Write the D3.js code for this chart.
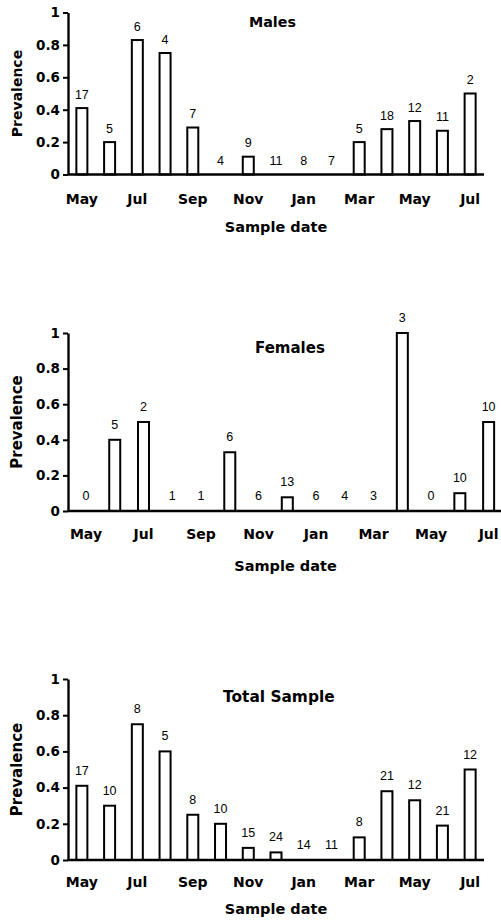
<!DOCTYPE html>
<html>
<head>
<meta charset="utf-8">
<script src="https://cdn.jsdelivr.net/npm/d3@7/dist/d3.min.js"></script>
<style>
  html, body { margin: 0; padding: 0; background: #fff; }
  svg { display: block; }
  .bold { font-family: "DejaVu Sans", sans-serif; font-weight: bold; fill: #000; }
  .count { font-family: "Liberation Sans", Arial, sans-serif; font-size: 12.5px; fill: #000; }
</style>
</head>
<body>
<svg id="chart" width="501" height="922"></svg>
<script>
// sample months (May of year 1 to July of year 2)
const months = ["May", "Jun", "Jul", "Aug", "Sep", "Oct", "Nov", "Dec",
                "Jan", "Feb", "Mar", "Apr", "May", "Jun", "Jul"];
const yTicks = [0, 0.2, 0.4, 0.6, 0.8, 1];

// prevalence per sample and sample sizes (numbers above bars)
const malesPrev = [0.41, 0.2, 0.83, 0.75, 0.29, 0, 0.11, 0, 0, 0, 0.2, 0.28, 0.33, 0.27, 0.5];
const malesN = [17, 5, 6, 4, 7, 4, 9, 11, 8, 7, 5, 18, 12, 11, 2];

const femalesPrev = [0, 0.4, 0.5, 0, 0, 0.33, 0, 0.077, 0, 0, 0, 1, 0, 0.1, 0.5];
const femalesN = [0, 5, 2, 1, 1, 6, 6, 13, 6, 4, 3, 3, 0, 10, 10];

const totalPrev = [0.41, 0.3, 0.75, 0.6, 0.25, 0.2, 0.067, 0.042, 0, 0, 0.125, 0.38, 0.33, 0.19, 0.5];
const totalN = [17, 10, 8, 5, 8, 10, 15, 24, 14, 11, 8, 21, 12, 21, 12];

const panels = [
  { title: "Males", prev: malesPrev, n: malesN,
    axisX: 68, bandX: [68, 484], axisEnd: 484, y0: 174.5, y1: 12.5,
    titleX: 249, titleY: 27, titleSize: 14.3, monthY: 204, xLabelY: 232,
    yLabelSize: 14, gap: 9.5 },
  { title: "Females", prev: femalesPrev, n: femalesN,
    axisX: 68, bandX: [71.6, 503], axisEnd: 503, y0: 511, y1: 333,
    titleX: 255, titleY: 353, titleSize: 15, monthY: 539, xLabelY: 571,
    yLabelSize: 15, gap: 11 },
  { title: "Total Sample", prev: totalPrev, n: totalN,
    axisX: 68, bandX: [68, 484], axisEnd: 484, y0: 860, y1: 679,
    titleX: 223, titleY: 702, titleSize: 15.4, monthY: 887, xLabelY: 914,
    yLabelSize: 15, gap: 11 }
];

const svg = d3.select("#chart");

panels.forEach((p) => {
  const g = svg.append("g");

  const x = d3.scaleBand()
    .domain(d3.range(months.length))
    .range(p.bandX)
    .padding(0);

  const y = d3.scaleLinear()
    .domain([0, 1])
    .range([p.y0, p.y1]);

  const barW = 11;

  // bars
  g.selectAll(".bar")
    .data(p.prev.map((v, i) => ({ i, v })).filter(d => d.v > 0))
    .enter()
    .append("rect")
    .attr("x", d => x(d.i) + x.bandwidth() / 2 - barW / 2)
    .attr("y", d => y(d.v))
    .attr("width", barW)
    .attr("height", d => y(0) - y(d.v))
    .attr("fill", "#fff")
    .attr("stroke", "#000")
    .attr("stroke-width", 2);

  // sample sizes above bars
  g.selectAll(".count")
    .data(p.n.map((v, i) => ({ i, v, prev: p.prev[i] })))
    .enter()
    .append("text")
    .attr("class", "count")
    .attr("x", d => x(d.i) + x.bandwidth() / 2)
    .attr("y", d => y(d.prev) - p.gap)
    .attr("text-anchor", "middle")
    .text(d => d.v);

  // x axis line
  g.append("line")
    .attr("x1", p.axisX)
    .attr("x2", p.axisEnd)
    .attr("y1", y(0))
    .attr("y2", y(0))
    .attr("stroke", "#000")
    .attr("stroke-width", 2.4);

  // y axis
  const yAxis = d3.axisLeft(y)
    .tickValues(yTicks)
    .tickFormat(d => (d === 0 || d === 1) ? String(d) : d3.format(".1f")(d))
    .tickSize(5)
    .tickSizeOuter(0)
    .tickPadding(3);

  const ya = g.append("g")
    .attr("transform", `translate(${p.axisX},0)`)
    .call(yAxis);
  ya.select(".domain").attr("stroke", "#000").attr("stroke-width", 2.4);
  ya.selectAll(".tick line").attr("stroke", "#000").attr("stroke-width", 2);
  ya.selectAll(".tick text")
    .attr("class", "bold")
    .attr("font-size", 13.5)
    .attr("fill", "#000");

  // month labels, every second sample
  g.selectAll(".month")
    .data(months.map((m, i) => ({ m, i })).filter(d => d.i % 2 === 0))
    .enter()
    .append("text")
    .attr("class", "bold")
    .attr("font-size", 14)
    .attr("x", d => x(d.i) + x.bandwidth() / 2)
    .attr("y", p.monthY)
    .attr("text-anchor", "middle")
    .text(d => d.m);

  // titles
  g.append("text")
    .attr("class", "bold")
    .attr("font-size", p.titleSize)
    .attr("x", p.titleX)
    .attr("y", p.titleY)
    .text(p.title);

  g.append("text")
    .attr("class", "bold")
    .attr("font-size", 14.5)
    .attr("x", (p.axisX + p.axisEnd) / 2)
    .attr("y", p.xLabelY)
    .attr("text-anchor", "middle")
    .text("Sample date");

  g.append("text")
    .attr("class", "bold")
    .attr("font-size", p.yLabelSize)
    .attr("transform", `translate(16.5,${(p.y0 + p.y1) / 2}) rotate(-90)`)
    .attr("text-anchor", "middle")
    .attr("dominant-baseline", "central")
    .text("Prevalence");
});
</script>
</body>
</html>
